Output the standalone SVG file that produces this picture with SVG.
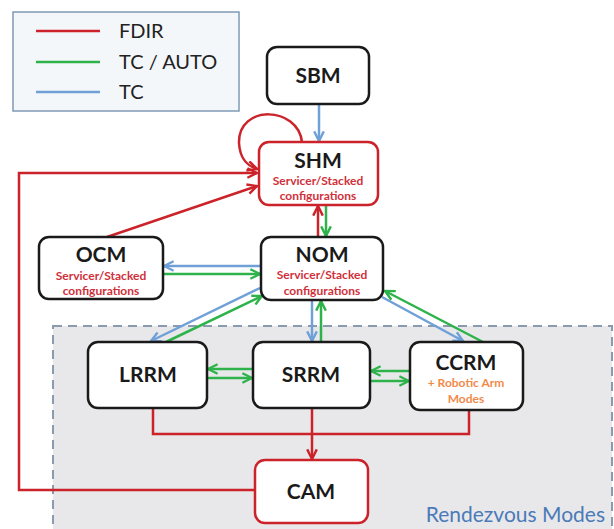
<svg xmlns="http://www.w3.org/2000/svg" width="614" height="529" viewBox="0 0 614 529">
<defs>
<style>
.node{fill:#fff;stroke:#1a1a1a;stroke-width:2.5}
.rnode{fill:#fff;stroke:#cc2229;stroke-width:2.5}
.t{font-family:Lato,"Open Sans",sans-serif;font-weight:bold;font-size:21px;fill:#1a1a1a;text-anchor:middle}
.s{font-family:Lato,"Open Sans",sans-serif;font-weight:bold;font-size:12px;fill:#d0303a;text-anchor:middle}
.o{font-family:Lato,"Open Sans",sans-serif;font-weight:bold;font-size:12px;fill:#f08a4b;text-anchor:middle}
.leg{font-family:Lato,"Open Sans",sans-serif;font-size:20px;fill:#222}
.r{stroke:#cc2229;stroke-width:2.5;fill:none}
.g{stroke:#2db34a;stroke-width:2.5;fill:none}
.b{stroke:#6fa0d8;stroke-width:2.5;fill:none}
</style>
<marker id="ar" viewBox="0 0 10 10" refX="9" refY="5" markerWidth="12" markerHeight="12" markerUnits="userSpaceOnUse" orient="auto"><path d="M1,1 L9,5 L1,9" fill="none" stroke="#cc2229" stroke-width="2"/></marker>
<marker id="ag" viewBox="0 0 10 10" refX="9" refY="5" markerWidth="12" markerHeight="12" markerUnits="userSpaceOnUse" orient="auto"><path d="M1,1 L9,5 L1,9" fill="none" stroke="#2db34a" stroke-width="2"/></marker>
<marker id="ab" viewBox="0 0 10 10" refX="9" refY="5" markerWidth="12" markerHeight="12" markerUnits="userSpaceOnUse" orient="auto"><path d="M1,1 L9,5 L1,9" fill="none" stroke="#6fa0d8" stroke-width="2"/></marker>
</defs>
<rect width="614" height="529" fill="#fff"/>
<g id="rendezvous">
<rect x="53" y="326" width="559" height="215" fill="#e8e8ea" stroke="#8a9bb0" stroke-width="2" stroke-dasharray="9,6"/>
<text x="605" y="522" font-family="Lato,'Open Sans',sans-serif" font-size="21" fill="#4a7ab8" text-anchor="end">Rendezvous Modes</text>
</g>
<g id="legend">
<rect x="13" y="12" width="226" height="99" fill="#f4f7fa" stroke="#7f9bb5" stroke-width="1.5"/>
<line x1="36" y1="31" x2="100" y2="31" class="r"/>
<line x1="36" y1="62" x2="100" y2="62" class="g"/>
<line x1="36" y1="92" x2="100" y2="92" class="b"/>
<text x="119" y="38" class="leg">FDIR</text>
<text x="119" y="69" class="leg">TC / AUTO</text>
<text x="119" y="99" class="leg">TC</text>
</g>
<g id="connectors">
<line x1="319" y1="104" x2="319" y2="141" class="b" marker-end="url(#ab)"/>
<path d="M302 142 C298 106 238 104 239 143 C240 160 248 166 257 169" class="r" marker-end="url(#ar)"/>
<path d="M255 490 L19 490 L19 173 L257 173" class="r" marker-end="url(#ar)"/>
<line x1="107" y1="237" x2="257" y2="186" class="r" marker-end="url(#ar)"/>
<line x1="318" y1="237" x2="318" y2="206" class="r" marker-end="url(#ar)"/>
<line x1="326" y1="205" x2="326" y2="236" class="g" marker-end="url(#ag)"/>
<line x1="261" y1="266" x2="164" y2="266" class="b" marker-end="url(#ab)"/>
<line x1="163" y1="274" x2="260" y2="274" class="g" marker-end="url(#ag)"/>
<line x1="260" y1="288" x2="151" y2="341" class="b" marker-end="url(#ab)"/>
<line x1="166" y1="342" x2="262" y2="296" class="g" marker-end="url(#ag)"/>
<line x1="312" y1="300" x2="312" y2="341" class="b" marker-end="url(#ab)"/>
<line x1="321" y1="342" x2="321" y2="301" class="g" marker-end="url(#ag)"/>
<line x1="382" y1="297" x2="463" y2="341" class="b" marker-end="url(#ab)"/>
<line x1="483" y1="342" x2="385" y2="291" class="g" marker-end="url(#ag)"/>
<line x1="253" y1="369" x2="208" y2="369" class="g" marker-end="url(#ag)"/>
<line x1="207" y1="378" x2="252" y2="378" class="g" marker-end="url(#ag)"/>
<line x1="410" y1="371" x2="371" y2="371" class="g" marker-end="url(#ag)"/>
<line x1="370" y1="381" x2="409" y2="381" class="g" marker-end="url(#ag)"/>
<path d="M153 408 L153 434 L469 434 L469 411" class="r"/>
<line x1="312" y1="408" x2="312" y2="459" class="r" marker-end="url(#ar)"/>
</g>
<g id="SBM">
<rect x="267" y="47" width="102" height="57" rx="10" class="node"/>
<text x="318" y="83" class="t">SBM</text>
</g>
<g id="SHM">
<rect x="259" y="142" width="119" height="63" rx="10" class="rnode"/>
<text x="318" y="168" class="t">SHM</text>
<text x="318" y="185" class="s">Servicer/Stacked</text>
<text x="318" y="200" class="s">configurations</text>
</g>
<g id="OCM">
<rect x="39" y="237" width="124" height="62" rx="10" class="node"/>
<text x="101" y="262" class="t">OCM</text>
<text x="101" y="280" class="s">Servicer/Stacked</text>
<text x="101" y="295" class="s">configurations</text>
</g>
<g id="NOM">
<rect x="261" y="237" width="122" height="63" rx="10" class="node"/>
<text x="322" y="262" class="t">NOM</text>
<text x="322" y="279" class="s">Servicer/Stacked</text>
<text x="322" y="295" class="s">configurations</text>
</g>
<g id="LRRM">
<rect x="88" y="342" width="119" height="66" rx="10" class="node"/>
<text x="148" y="382" class="t">LRRM</text>
</g>
<g id="SRRM">
<rect x="253" y="342" width="117" height="66" rx="10" class="node"/>
<text x="311" y="382" class="t">SRRM</text>
</g>
<g id="CCRM">
<rect x="410" y="342" width="113" height="68" rx="10" class="node"/>
<text x="466" y="370" class="t">CCRM</text>
<text x="466" y="387" class="o">+ Robotic Arm</text>
<text x="466" y="403" class="o">Modes</text>
</g>
<g id="CAM">
<rect x="255" y="460" width="113" height="63" rx="10" class="rnode"/>
<text x="311" y="499" class="t">CAM</text>
</g>
</svg>
